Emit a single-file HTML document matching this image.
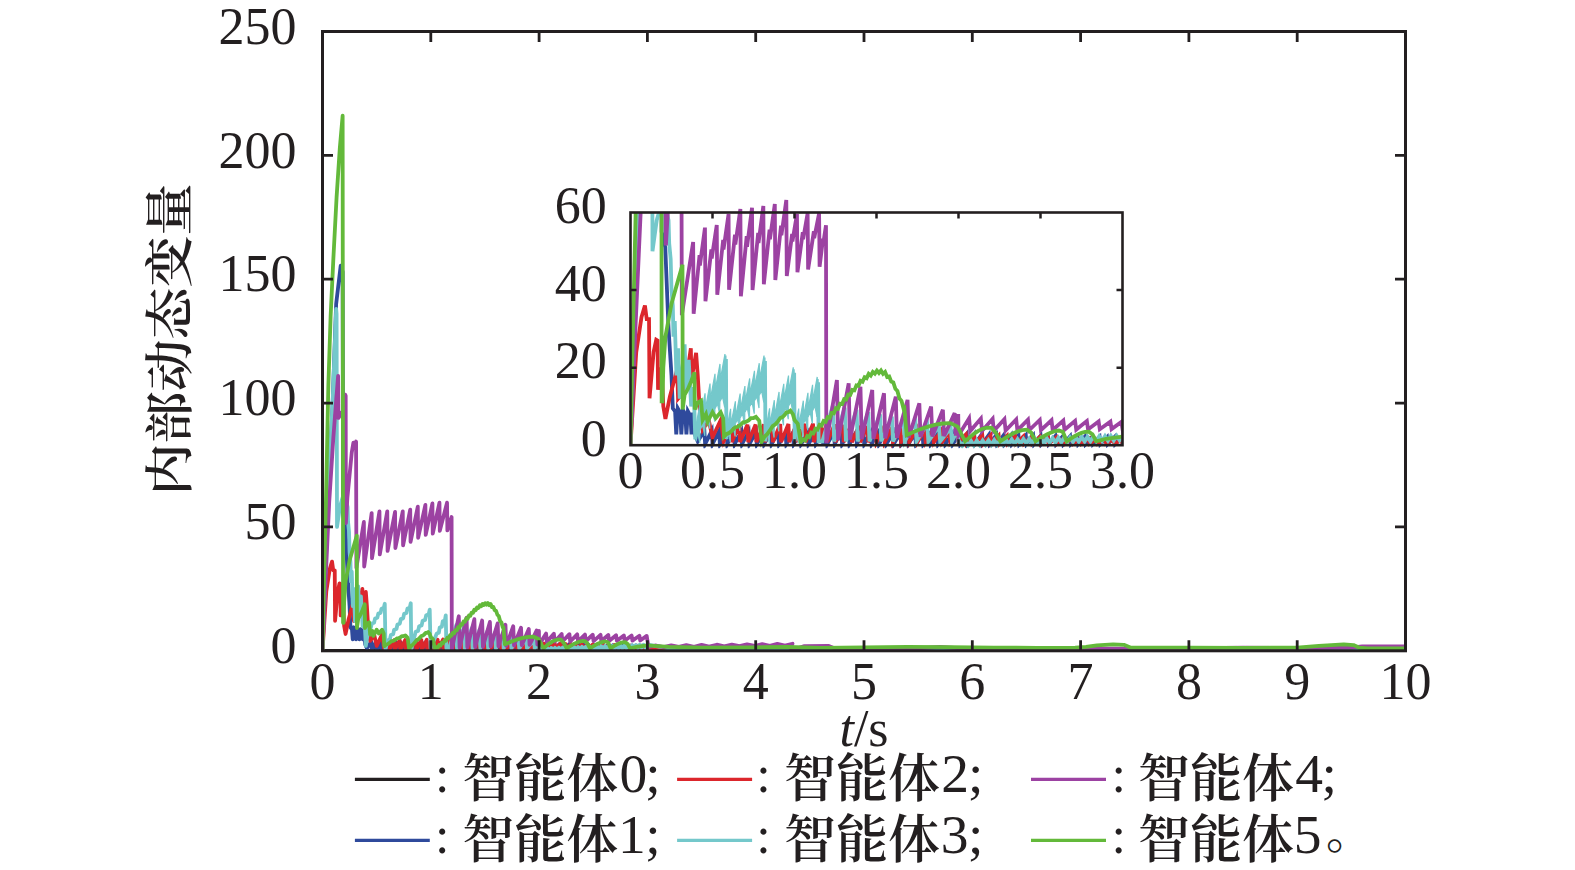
<!DOCTYPE html><html><head><meta charset="utf-8"><style>html,body{margin:0;padding:0;background:#fff;}svg{display:block}</style></head><body><svg width="1575" height="870" viewBox="0 0 1575 870">
<defs><clipPath id="cm"><rect x="321" y="30" width="1086" height="622"/></clipPath><clipPath id="ci"><rect x="630.5" y="212.5" width="492.0" height="235.7"/></clipPath><clipPath id="ci2"><rect x="686.3" y="195" width="436.2" height="17.5"/></clipPath></defs>
<rect width="1575" height="870" fill="#fff"/>
<g clip-path="url(#cm)" fill="none" stroke-width="3.8" stroke-linejoin="round" stroke-linecap="round">
<path d="M322.50,650.80 L1405.50,650.80" stroke="#231f20"/>
<path d="M322.50,650.80 L324.67,591.35 L327.92,507.12 L332.68,403.08 L336.15,303.99 L340.69,265.60 L342.64,271.79 L343.08,514.55 L345.46,524.46 L347.63,576.48 L349.57,606.21 L350.44,627.27 L351.96,629.25 L352.72,639.40 L353.69,627.27 L355.31,630.17 L356.07,639.40 L357.05,628.19 L358.67,631.09 L359.43,639.40 L360.41,629.11 L362.03,632.01 L362.79,639.40 L363.76,630.03 L365.28,644.61 L366.90,648.32 L371.29,641.49 L371.78,650.06 L371.78,650.06 L376.16,641.60 L376.65,650.06 L376.65,650.06 L381.04,641.71 L381.52,650.06 L381.52,650.06 L385.91,641.83 L386.40,650.06 L386.40,650.06 L390.78,641.94 L391.27,650.06 L391.27,650.06 L395.66,642.05 L396.14,650.06 L396.14,650.06 L400.53,642.17 L401.02,650.06 L401.02,650.06 L405.40,642.28 L405.89,650.06 L405.89,650.06 L410.28,642.39 L410.76,650.06 L410.76,650.06 L415.15,642.50 L415.64,650.06 L415.64,650.06 L420.02,642.62 L420.51,650.06 L420.51,650.06 L424.90,642.73 L425.39,650.06 L425.39,650.06 L429.77,642.84 L430.26,650.06 L430.26,650.06 L434.64,642.96 L435.13,650.06 L435.13,650.06 L439.52,643.07 L440.01,650.06 L440.01,650.06 L444.39,643.18 L444.88,650.06 L444.88,650.06 L449.27,643.29 L449.75,650.06 L449.75,650.06 L452.19,643.36 L452.46,650.06 L456.85,642.21 L457.33,650.06 L457.33,650.06 L461.72,642.31 L462.21,650.06 L462.21,650.06 L466.59,642.40 L467.08,650.06 L467.08,650.06 L471.47,642.49 L471.95,650.06 L471.95,650.06 L476.34,642.58 L476.83,650.06 L476.83,650.06 L481.21,642.68 L481.70,650.06 L481.70,650.06 L486.09,642.77 L486.57,650.06 L486.57,650.06 L490.96,642.86 L491.45,650.06 L491.45,650.06 L495.83,642.96 L496.32,650.06 L496.32,650.06 L500.71,643.05 L501.19,650.06 L501.19,650.06 L505.58,643.14 L506.07,650.06 L506.07,650.06 L510.45,643.24 L510.94,650.06 L510.94,650.06 L515.33,643.33 L515.82,650.06 L515.82,650.06 L520.20,643.42 L520.69,650.06 L520.69,650.06 L525.08,643.51 L525.56,650.06 L525.56,650.06 L529.95,643.61 L530.44,650.06 L530.44,650.06 L534.82,643.70 L535.31,650.06 L535.31,650.06 L539.70,643.79 L540.18,650.06 L540.18,650.06 L544.57,643.89 L545.06,650.06 L545.06,650.06 L549.44,643.98 L549.93,650.06 L549.93,650.06 L554.32,644.07 L554.80,650.06 L554.80,650.06 L559.19,644.16 L559.68,650.06 L559.68,650.06 L564.06,644.26 L564.55,650.06 L564.55,650.06 L568.94,644.35 L569.42,650.06 L569.42,650.06 L573.81,644.44 L574.30,650.06 L574.30,650.06 L578.68,644.54 L579.17,650.06 L579.17,650.06 L583.56,644.63 L584.04,650.06 L584.04,650.06 L588.43,644.72 L588.92,650.06 L588.92,650.06 L593.30,644.81 L593.79,650.06 L593.79,650.06 L598.18,644.91 L598.66,650.06 L598.66,650.06 L603.05,645.00 L603.54,650.06 L603.54,650.06 L607.92,645.09 L608.41,650.06 L608.41,650.06 L612.80,645.19 L613.29,650.06 L613.29,650.06 L617.67,645.28 L618.16,650.06 L618.16,650.06 L622.55,645.37 L623.03,650.06 L623.03,650.06 L627.42,645.46 L627.91,650.06 L627.91,650.06 L632.29,645.56 L632.78,650.06 L632.78,650.06 L637.17,645.65 L637.65,650.06 L637.65,650.06 L642.04,645.74 L642.53,650.06 L642.53,650.06 L646.91,645.84 L647.40,650.06 L669.06,650.06 L864.00,650.06 L1405.50,650.06" stroke="#2f4a9c"/>
<path d="M322.50,650.80 L326.29,591.35 L329.76,569.05 L332.03,561.62 L333.22,570.29 L334.74,570.29 L335.06,620.83 L337.77,591.35 L339.50,583.42 L340.37,583.92 L340.69,615.38 L343.08,601.26 L344.16,626.03 L345.57,633.96 L348.49,619.83 L353.37,602.25 L353.91,621.07 L358.24,616.12 L362.35,588.87 L362.79,608.69 L365.82,591.84 L366.90,606.21 L368.20,628.01 L370.15,640.89 L374.16,634.70 L376.65,645.85 L382.06,634.70 L384.01,648.32 L388.89,640.33 L389.43,649.56 L389.43,649.56 L394.30,640.25 L394.84,649.56 L394.84,649.56 L399.72,640.17 L400.26,649.56 L400.26,649.56 L405.13,640.09 L405.67,649.56 L405.67,649.56 L410.55,640.01 L411.09,649.56 L411.09,649.56 L415.96,639.93 L416.50,649.56 L416.50,649.56 L421.38,639.85 L421.92,649.56 L421.92,649.56 L426.79,639.78 L427.33,649.56 L427.33,649.56 L432.21,639.70 L432.75,649.56 L432.75,649.56 L437.62,639.62 L438.16,649.56 L438.16,649.56 L443.04,639.54 L443.58,649.56 L443.58,649.56 L448.45,639.46 L448.99,649.56 L448.99,649.56 L452.11,639.41 L452.46,649.56 L457.33,638.66 L457.88,649.31 L457.88,649.31 L462.75,638.94 L463.29,649.31 L463.29,649.31 L468.16,639.22 L468.71,649.31 L468.71,649.31 L473.58,639.50 L474.12,649.31 L474.12,649.31 L478.99,639.78 L479.54,649.31 L479.54,649.31 L484.41,640.06 L484.95,649.31 L484.95,649.31 L489.82,640.34 L490.37,649.31 L490.37,649.31 L495.24,640.62 L495.78,649.31 L495.78,649.31 L500.65,640.89 L501.20,649.31 L501.20,649.31 L506.07,641.17 L506.61,649.31 L506.61,649.31 L511.48,641.45 L512.03,649.31 L512.03,649.31 L516.90,641.73 L517.44,649.31 L517.44,649.31 L522.31,642.01 L522.86,649.31 L522.86,649.31 L527.73,642.29 L528.27,649.31 L528.27,649.31 L533.14,642.57 L533.69,649.31 L533.69,649.31 L538.56,642.85 L539.10,649.31 L543.97,643.48 L544.51,649.56 L544.51,649.56 L549.39,643.60 L549.93,649.56 L549.93,649.56 L554.80,643.73 L555.34,649.56 L555.34,649.56 L560.22,643.85 L560.76,649.56 L560.76,649.56 L565.63,643.98 L566.17,649.56 L566.17,649.56 L571.05,644.10 L571.59,649.56 L571.59,649.56 L576.46,644.22 L577.00,649.56 L577.00,649.56 L581.88,644.35 L582.42,649.56 L582.42,649.56 L587.29,644.47 L587.83,649.56 L587.83,649.56 L592.71,644.59 L593.25,649.56 L593.25,649.56 L598.12,644.72 L598.66,649.56 L598.66,649.56 L603.54,644.84 L604.08,649.56 L604.08,649.56 L608.95,644.97 L609.49,649.56 L609.49,649.56 L614.37,645.09 L614.91,649.56 L614.91,649.56 L619.78,645.21 L620.32,649.56 L620.32,649.56 L625.20,645.34 L625.74,649.56 L625.74,649.56 L630.61,645.46 L631.15,649.56 L631.15,649.56 L636.03,645.59 L636.57,649.56 L636.57,649.56 L641.44,645.71 L641.98,649.56 L641.98,649.56 L646.86,645.83 L647.40,649.56 L669.06,649.56 L755.70,649.31 L864.00,649.56 L972.30,649.81 L1080.60,649.56 L1188.90,649.56 L1253.88,647.83 L1275.54,649.56 L1405.50,649.56" stroke="#dc262c"/>
<path d="M322.50,650.80 L324.67,588.87 L327.92,502.17 L332.68,400.60 L336.15,308.95 L336.58,313.90 L337.01,526.94 L339.83,507.12 L344.16,492.26 L347.63,507.12 L348.06,521.99 L349.03,531.89 L349.57,551.71 L350.44,561.62 L350.87,581.44 L351.74,571.53 L352.82,606.21 L353.91,588.87 L354.99,621.07 L358.24,586.39 L359.32,616.12 L360.95,596.30 L362.57,626.03 L364.20,613.64 L365.82,645.85 L368.53,628.51 L370.80,627.71 L371.78,623.55 L374.05,622.76 L375.03,618.60 L377.30,617.80 L378.27,613.64 L380.55,612.85 L381.52,608.69 L383.80,607.89 L384.77,603.73 L385.53,649.31 L387.48,640.40 L389.81,639.60 L390.81,635.09 L393.13,634.29 L394.13,629.78 L396.46,628.99 L397.46,624.47 L399.79,623.68 L400.79,619.16 L403.11,618.37 L404.11,613.85 L406.44,613.06 L407.44,608.55 L409.77,607.75 L410.76,603.24 L411.31,649.31 L415.64,631.73 L418.10,630.93 L419.16,626.21 L421.62,625.42 L422.68,620.70 L425.14,619.91 L426.20,615.19 L428.66,614.40 L429.72,609.68 L430.58,648.32 L436.76,633.46 L438.85,632.67 L439.75,627.43 L441.85,626.64 L442.75,621.40 L444.85,620.61 L445.75,615.38 L446.40,648.32 L446.72,648.32 L449.21,648.32 L456.21,625.28 L456.99,648.32 L456.99,648.32 L463.99,626.74 L464.76,648.32 L464.76,648.32 L471.76,628.21 L472.54,648.32 L472.54,648.32 L479.54,629.67 L480.31,648.32 L480.31,648.32 L487.31,631.14 L488.09,648.32 L488.09,648.32 L495.09,632.60 L495.87,648.32 L495.87,648.32 L502.86,634.07 L503.64,648.32 L503.64,648.32 L510.64,635.53 L511.42,648.32 L511.42,648.32 L518.42,637.00 L519.19,648.32 L519.19,648.32 L526.19,638.46 L526.97,648.32 L526.97,648.32 L533.97,639.92 L534.75,648.32 L534.75,648.32 L538.66,640.81 L539.10,648.32 L539.64,648.32 L541.57,651.23 L543.49,648.19 L545.41,651.10 L547.34,648.06 L549.26,650.96 L551.19,647.92 L553.11,650.83 L555.04,647.79 L556.96,650.70 L558.88,647.66 L560.81,650.57 L562.73,647.53 L564.66,650.43 L566.58,647.39 L568.51,650.30 L570.43,647.26 L572.35,650.17 L574.28,647.13 L576.20,650.03 L578.13,647.00 L580.05,649.90 L581.98,646.86 L583.90,649.77 L585.82,646.73 L587.75,649.64 L589.67,646.60 L591.60,649.50 L593.52,646.46 L595.45,649.37 L597.37,646.33 L599.29,649.24 L601.22,646.20 L603.14,649.11 L605.07,646.07 L606.99,648.97 L608.91,645.93 L610.84,648.84 L612.76,645.80 L614.69,648.71 L616.61,645.67 L618.54,648.57 L620.46,645.54 L622.38,648.44 L624.31,645.40 L626.23,648.31 L628.16,645.27 L630.08,648.18 L632.01,645.14 L633.93,648.04 L635.85,645.01 L637.78,647.91 L639.70,644.87 L641.63,647.78 L643.55,644.74 L645.48,647.65 L647.40,644.61 L669.06,648.32 L712.38,649.31 L755.70,648.82 L864.00,649.56 L972.30,649.31 L1080.60,649.56 L1188.90,648.82 L1243.05,649.56 L1297.20,649.31 L1405.50,649.07" stroke="#74c8cb"/>
<path d="M322.50,650.80 L325.75,576.48 L329.21,502.17 L333.33,437.76 L338.10,375.83 L338.42,417.94 L344.70,408.03 L345.24,394.66 L345.68,395.65 L345.89,523.22 L347.41,497.21 L351.74,452.62 L353.37,442.72 L354.99,445.19 L356.07,441.48 L356.40,567.81 L363.87,521.99 L364.20,566.58 L371.67,513.07 L371.99,558.15 L379.47,511.33 L379.79,554.44 L387.26,511.33 L387.59,550.97 L395.06,511.83 L395.39,548.00 L402.75,511.33 L403.08,545.27 L410.22,509.60 L410.55,541.80 L417.80,506.63 L418.13,537.84 L425.38,504.89 L425.71,534.87 L432.42,503.41 L432.75,533.63 L439.46,502.66 L439.79,530.90 L447.04,502.66 L447.37,530.41 L451.59,517.03 L451.81,649.56 L458.81,616.24 L459.59,647.53 L459.59,647.53 L466.58,617.67 L467.36,647.24 L467.36,647.24 L474.36,619.10 L475.14,646.96 L475.14,646.96 L482.14,620.53 L482.91,646.67 L482.91,646.67 L489.91,621.95 L490.69,646.38 L490.69,646.38 L497.69,623.38 L498.47,646.10 L498.47,646.10 L505.46,624.81 L506.24,645.81 L506.24,645.81 L513.24,626.24 L514.02,645.53 L514.02,645.53 L521.02,627.66 L521.79,645.24 L521.79,645.24 L528.79,629.09 L529.57,644.96 L529.57,644.96 L536.57,630.52 L537.35,644.67 L537.35,644.67 L538.92,630.95 L539.10,644.61 L546.10,633.62 L546.88,641.78 L546.88,641.78 L553.87,633.80 L554.65,641.67 L554.65,641.67 L561.65,633.98 L562.43,641.56 L562.43,641.56 L569.43,634.15 L570.20,641.46 L570.20,641.46 L577.20,634.33 L577.98,641.35 L577.98,641.35 L584.98,634.51 L585.76,641.24 L585.76,641.24 L592.75,634.69 L593.53,641.14 L593.53,641.14 L600.53,634.86 L601.31,641.03 L601.31,641.03 L608.31,635.04 L609.08,640.92 L609.08,640.92 L616.08,635.22 L616.86,640.81 L616.86,640.81 L623.86,635.40 L624.64,640.71 L624.64,640.71 L631.63,635.58 L632.41,640.60 L632.41,640.60 L639.41,635.75 L640.19,640.49 L640.19,640.49 L646.68,635.92 L647.40,640.40 L648.48,646.84 L656.06,645.49 L663.64,647.13 L671.23,645.30 L678.81,646.94 L686.39,645.11 L693.97,646.75 L701.55,644.92 L709.13,646.56 L716.71,644.73 L724.29,646.36 L731.87,644.54 L739.45,646.17 L747.04,644.34 L754.62,645.98 L762.20,644.15 L769.78,645.79 L777.36,643.96 L784.94,645.60 L792.52,643.77 L790.36,648.08 L799.02,647.83 L804.44,646.09 L828.26,645.85 L833.68,648.08 L918.15,648.32 L939.81,646.84 L961.47,648.32 L1004.79,648.32 L1058.94,648.08 L1113.09,648.57 L1188.90,648.32 L1243.05,647.58 L1297.20,648.32 L1351.35,647.58 L1362.18,646.46 L1405.50,646.46" stroke="#9c42a2"/>
<path d="M322.50,650.80 L324.12,576.48 L325.97,499.69 L328.35,385.74 L330.62,316.38 L333.33,259.40 L336.58,197.47 L339.83,147.93 L342.64,115.72 L343.08,622.81 L343.62,622.81 L344.16,601.26 L345.57,581.44 L349.57,560.38 L353.91,545.52 L356.83,535.61 L356.94,628.01 L358.24,618.60 L360.40,614.88 L362.57,609.93 L364.74,604.23 L364.95,628.01 L366.90,623.55 L369.07,622.31 L370.15,634.70 L372.32,630.98 L373.40,635.94 L376.65,629.74 L378.82,633.46 L382.06,629.74 L383.69,633.46 L384.23,646.17 L386.04,644.69 L387.84,644.06 L389.65,642.80 L391.45,641.18 L393.26,640.83 L395.06,639.85 L396.87,638.38 L398.67,638.17 L400.48,637.32 L402.10,636.06 L403.73,636.06 L405.35,635.43 L406.07,636.13 L406.79,636.83 L407.52,637.53 L408.06,641.32 L408.60,645.11 L409.14,648.90 L410.94,646.24 L412.75,644.83 L414.56,642.80 L416.36,640.48 L418.16,639.43 L419.97,637.75 L421.41,635.99 L422.86,635.50 L424.30,634.38 L425.57,632.97 L426.83,632.83 L428.09,632.06 L428.63,632.69 L429.18,633.32 L429.72,633.96 L430.08,635.01 L430.44,636.06 L430.80,637.11 L431.52,637.82 L432.24,638.52 L432.97,639.22 L433.62,642.52 L434.27,645.82 L434.92,648.82 L435.13,648.82 L436.49,647.12 L437.84,647.77 L439.19,644.95 L440.55,645.60 L441.90,642.75 L443.25,643.24 L444.61,640.27 L445.96,640.77 L447.32,637.79 L448.67,638.29 L450.02,635.32 L451.38,635.81 L452.73,632.84 L454.08,633.34 L455.44,630.14 L456.79,630.42 L458.15,627.23 L459.50,627.51 L460.85,624.32 L462.21,624.59 L463.56,621.40 L464.91,621.66 L466.27,618.45 L467.62,618.71 L468.98,615.51 L470.33,615.77 L471.68,612.56 L473.04,612.82 L474.39,609.61 L475.74,610.21 L477.10,607.36 L478.45,607.97 L479.81,605.22 L481.16,606.33 L482.51,603.98 L483.87,605.10 L485.22,603.16 L486.57,604.68 L487.93,603.11 L489.28,605.24 L490.64,604.03 L491.99,607.18 L493.34,606.87 L494.70,610.17 L496.05,610.73 L497.40,614.76 L498.76,616.12 L500.11,620.95 L501.47,622.50 L502.82,627.55 L503.36,627.14 L504.88,644.36 L509.32,642.37 L514.19,640.52 L519.06,638.93 L523.94,637.71 L528.81,636.94 L533.68,636.68 L538.56,638.93 L543.43,648.32 L546.34,645.85 L549.25,643.56 L552.16,641.66 L555.07,640.27 L557.98,639.52 L560.90,639.73 L563.81,642.93 L566.72,648.32 L569.63,646.44 L572.54,644.68 L575.45,643.16 L578.36,641.98 L581.27,641.20 L584.18,640.90 L587.09,642.77 L590.00,648.32 L592.57,646.67 L595.15,645.11 L597.72,643.74 L600.29,642.63 L602.86,641.85 L605.43,641.44 L608.01,642.25 L610.58,648.32 L613.01,646.72 L615.45,645.23 L617.89,643.94 L620.33,642.96 L622.76,642.34 L625.20,642.13 L627.64,643.94 L630.07,648.32 L636.57,646.84 L647.40,645.35 L669.06,646.84 L701.55,647.58 L755.70,647.33 L788.19,646.84 L820.68,647.83 L864.00,647.33 L907.32,646.84 L950.64,647.08 L993.96,647.58 L1037.28,647.83 L1075.18,647.58 L1086.01,646.84 L1096.85,645.35 L1113.09,644.36 L1123.92,644.85 L1130.42,647.58 L1188.90,647.58 L1243.05,647.83 L1297.20,647.58 L1318.86,645.85 L1343.77,644.36 L1353.52,645.10 L1358.93,647.58 L1367.60,648.45 L1405.50,648.45" stroke="#63b93a"/>
</g>
<path d="M430.80,650.80V640.30M430.80,31.50V42.00M539.10,650.80V640.30M539.10,31.50V42.00M647.40,650.80V640.30M647.40,31.50V42.00M755.70,650.80V640.30M755.70,31.50V42.00M864.00,650.80V640.30M864.00,31.50V42.00M972.30,650.80V640.30M972.30,31.50V42.00M1080.60,650.80V640.30M1080.60,31.50V42.00M1188.90,650.80V640.30M1188.90,31.50V42.00M1297.20,650.80V640.30M1297.20,31.50V42.00M322.50,526.94H333.00M1405.50,526.94H1395.00M322.50,403.08H333.00M1405.50,403.08H1395.00M322.50,279.22H333.00M1405.50,279.22H1395.00M322.50,155.36H333.00M1405.50,155.36H1395.00" stroke="#231f20" stroke-width="2.8" fill="none"/>
<rect x="322.5" y="31.5" width="1083.0" height="619.3" fill="none" stroke="#231f20" stroke-width="3"/>
<rect x="630.5" y="212.5" width="492.0" height="232.7" fill="#fff"/>
<g clip-path="url(#ci)" fill="none" stroke-width="3.8" stroke-linejoin="miter" stroke-miterlimit="4">
<path d="M630.50,445.20" stroke="#231f20"/>
<path d="M630.50,445.20 L633.78,352.12 L638.70,220.26 L645.92,57.37 L651.16,-97.77 L658.05,-157.88 L661.00,-148.19 L661.66,231.89 L665.27,247.41 L668.55,328.85 L671.50,375.39 L672.81,408.36 L675.11,411.46 L676.26,434.34 L677.73,408.36 L680.19,412.90 L681.34,434.34 L682.82,409.80 L685.28,414.34 L686.42,434.34 L687.90,411.24 L690.36,415.79 L691.51,434.34 L692.98,412.68 L695.28,435.50 L697.74,441.32 L704.38,430.62 L705.12,444.04 L705.12,444.04 L711.76,430.80 L712.50,444.04 L712.50,444.04 L719.14,430.97 L719.88,444.04 L719.88,444.04 L726.52,431.15 L727.26,444.04 L727.26,444.04 L733.90,431.33 L734.64,444.04 L734.64,444.04 L741.28,431.51 L742.02,444.04 L742.02,444.04 L748.66,431.68 L749.40,444.04 L749.40,444.04 L756.04,431.86 L756.78,444.04 L756.78,444.04 L763.42,432.04 L764.16,444.04 L764.16,444.04 L770.80,432.21 L771.54,444.04 L771.54,444.04 L778.18,432.39 L778.92,444.04 L778.92,444.04 L785.56,432.57 L786.30,444.04 L786.30,444.04 L792.94,432.74 L793.68,444.04 L793.68,444.04 L800.32,432.92 L801.06,444.04 L801.06,444.04 L807.70,433.10 L808.44,444.04 L808.44,444.04 L815.08,433.27 L815.82,444.04 L815.82,444.04 L822.46,433.45 L823.20,444.04 L823.20,444.04 L826.89,433.56 L827.30,444.04 L833.94,431.76 L834.68,444.04 L834.68,444.04 L841.32,431.90 L842.06,444.04 L842.06,444.04 L848.70,432.05 L849.44,444.04 L849.44,444.04 L856.08,432.19 L856.82,444.04 L856.82,444.04 L863.46,432.34 L864.20,444.04 L864.20,444.04 L870.84,432.48 L871.58,444.04 L871.58,444.04 L878.22,432.63 L878.96,444.04 L878.96,444.04 L885.60,432.77 L886.34,444.04 L886.34,444.04 L892.98,432.92 L893.72,444.04 L893.72,444.04 L900.36,433.07 L901.10,444.04 L901.10,444.04 L907.74,433.21 L908.48,444.04 L908.48,444.04 L915.12,433.36 L915.86,444.04 L915.86,444.04 L922.50,433.50 L923.24,444.04 L923.24,444.04 L929.88,433.65 L930.62,444.04 L930.62,444.04 L937.26,433.79 L938.00,444.04 L938.00,444.04 L944.64,433.94 L945.38,444.04 L945.38,444.04 L952.02,434.08 L952.76,444.04 L952.76,444.04 L959.40,434.23 L960.14,444.04 L960.14,444.04 L966.78,434.37 L967.52,444.04 L967.52,444.04 L974.16,434.52 L974.90,444.04 L974.90,444.04 L981.54,434.67 L982.28,444.04 L982.28,444.04 L988.92,434.81 L989.66,444.04 L989.66,444.04 L996.30,434.96 L997.04,444.04 L997.04,444.04 L1003.68,435.10 L1004.42,444.04 L1004.42,444.04 L1011.06,435.25 L1011.80,444.04 L1011.80,444.04 L1018.44,435.39 L1019.18,444.04 L1019.18,444.04 L1025.82,435.54 L1026.56,444.04 L1026.56,444.04 L1033.20,435.68 L1033.94,444.04 L1033.94,444.04 L1040.58,435.83 L1041.32,444.04 L1041.32,444.04 L1047.96,435.97 L1048.70,444.04 L1048.70,444.04 L1055.34,436.12 L1056.08,444.04 L1056.08,444.04 L1062.72,436.27 L1063.46,444.04 L1063.46,444.04 L1070.10,436.41 L1070.84,444.04 L1070.84,444.04 L1077.48,436.56 L1078.22,444.04 L1078.22,444.04 L1084.86,436.70 L1085.60,444.04 L1085.60,444.04 L1092.24,436.85 L1092.98,444.04 L1092.98,444.04 L1099.62,436.99 L1100.36,444.04 L1100.36,444.04 L1107.00,437.14 L1107.74,444.04 L1107.74,444.04 L1114.38,437.28 L1115.12,444.04 L1115.12,444.04 L1121.76,437.43 L1122.50,444.04" stroke="#2f4a9c"/>
<path d="M630.50,445.20 L636.24,352.12 L641.49,317.22 L644.93,305.58 L646.74,319.15 L649.03,319.15 L649.52,398.27 L653.62,352.12 L656.25,339.71 L657.56,340.49 L658.05,389.74 L661.66,367.63 L663.30,406.42 L665.43,418.83 L669.86,396.72 L677.24,369.18 L678.06,398.66 L684.62,390.90 L690.85,348.24 L691.51,379.27 L696.10,352.90 L697.74,375.39 L699.71,409.52 L702.66,429.69 L708.73,419.99 L712.50,437.44 L720.70,419.99 L723.65,441.32 L731.03,424.92 L731.85,442.10 L731.85,442.10 L739.23,424.80 L740.05,442.10 L740.05,442.10 L747.43,424.68 L748.25,442.10 L748.25,442.10 L755.63,424.55 L756.45,442.10 L756.45,442.10 L763.83,424.43 L764.65,442.10 L764.65,442.10 L772.03,424.31 L772.85,442.10 L772.85,442.10 L780.23,424.19 L781.05,442.10 L781.05,442.10 L788.43,424.06 L789.25,442.10 L789.25,442.10 L796.63,423.94 L797.45,442.10 L797.45,442.10 L804.83,423.82 L805.65,442.10 L805.65,442.10 L813.03,423.69 L813.85,442.10 L813.85,442.10 L821.23,423.57 L822.05,442.10 L822.05,442.10 L826.78,423.49 L827.30,442.10 L834.68,424.31 L835.50,442.10 L835.50,442.10 L842.88,424.79 L843.70,442.10 L843.70,442.10 L851.08,425.28 L851.90,442.10 L851.90,442.10 L859.28,425.76 L860.10,442.10 L860.10,442.10 L867.48,426.24 L868.30,442.10 L868.30,442.10 L875.68,426.73 L876.50,442.10 L876.50,442.10 L883.88,427.21 L884.70,442.10 L884.70,442.10 L892.08,427.70 L892.90,442.10 L892.90,442.10 L900.28,428.18 L901.10,442.10 L901.10,442.10 L908.48,428.67 L909.30,442.10 L909.30,442.10 L916.68,429.15 L917.50,442.10 L917.50,442.10 L924.88,429.64 L925.70,442.10 L925.70,442.10 L933.08,430.12 L933.90,442.10 L933.90,442.10 L941.28,430.61 L942.10,442.10 L942.10,442.10 L949.48,431.09 L950.30,442.10 L950.30,442.10 L957.68,431.58 L958.50,442.10 L965.88,434.59 L966.70,443.65 L966.70,443.65 L974.08,434.86 L974.90,443.65 L974.90,443.65 L982.28,435.13 L983.10,443.65 L983.10,443.65 L990.48,435.40 L991.30,443.65 L991.30,443.65 L998.68,435.67 L999.50,443.65 L999.50,443.65 L1006.88,435.94 L1007.70,443.65 L1007.70,443.65 L1015.08,436.21 L1015.90,443.65 L1015.90,443.65 L1023.28,436.49 L1024.10,443.65 L1024.10,443.65 L1031.48,436.76 L1032.30,443.65 L1032.30,443.65 L1039.68,437.03 L1040.50,443.65 L1040.50,443.65 L1047.88,437.30 L1048.70,443.65 L1048.70,443.65 L1056.08,437.57 L1056.90,443.65 L1056.90,443.65 L1064.28,437.84 L1065.10,443.65 L1065.10,443.65 L1072.48,438.11 L1073.30,443.65 L1073.30,443.65 L1080.68,438.39 L1081.50,443.65 L1081.50,443.65 L1088.88,438.66 L1089.70,443.65 L1089.70,443.65 L1097.08,438.93 L1097.90,443.65 L1097.90,443.65 L1105.28,439.20 L1106.10,443.65 L1106.10,443.65 L1113.48,439.47 L1114.30,443.65 L1114.30,443.65 L1121.68,439.74 L1122.50,443.65" stroke="#dc262c"/>
<path d="M630.50,445.20 L633.78,348.24 L638.70,212.50 L645.92,53.49 L651.16,-90.01 L651.82,-82.25 L652.48,251.28 L656.74,220.26 L663.30,196.99 L668.55,220.26 L669.20,243.53 L670.68,259.04 L671.50,290.07 L672.81,305.58 L673.47,336.61 L674.78,321.09 L676.42,375.39 L678.06,348.24 L679.70,398.66 L684.62,344.36 L686.26,390.90 L688.72,359.88 L691.18,406.42 L693.64,387.02 L695.28,439.38 L696.10,429.69 L725.95,378.88 L725.95,359.10 L726.44,438.99 L726.77,430.66 L764.98,377.52 L764.98,361.04 L765.47,441.32 L765.80,431.63 L794.17,388.58 L794.17,372.68 L794.66,441.32 L794.99,431.63 L818.12,395.36 L818.12,382.37 L818.61,441.32 L822.38,441.32 L832.98,405.24 L834.16,441.32 L834.16,441.32 L844.75,407.53 L845.93,441.32 L845.93,441.32 L856.53,409.83 L857.71,441.32 L857.71,441.32 L868.30,412.12 L869.48,441.32 L869.48,441.32 L880.08,414.41 L881.26,441.32 L881.26,441.32 L891.85,416.71 L893.03,441.32 L893.03,441.32 L903.63,419.00 L904.81,441.32 L904.81,441.32 L915.40,421.29 L916.58,441.32 L916.58,441.32 L927.18,423.59 L928.36,441.32 L928.36,441.32 L938.95,425.88 L940.13,441.32 L940.13,441.32 L950.73,428.17 L951.91,441.32 L951.91,441.32 L957.84,429.56 L958.50,441.32 L959.32,441.32 L962.23,445.87 L965.15,441.11 L968.06,445.66 L970.98,440.91 L973.89,445.46 L976.80,440.70 L979.72,445.25 L982.63,440.49 L985.55,445.04 L988.46,440.28 L991.37,444.83 L994.29,440.08 L997.20,444.63 L1000.12,439.87 L1003.03,444.42 L1005.94,439.66 L1008.86,444.21 L1011.77,439.45 L1014.68,444.00 L1017.60,439.24 L1020.51,443.79 L1023.43,439.04 L1026.34,443.59 L1029.25,438.83 L1032.17,443.38 L1035.08,438.62 L1038.00,443.17 L1040.91,438.41 L1043.82,442.96 L1046.74,438.21 L1049.65,442.76 L1052.57,438.00 L1055.48,442.55 L1058.39,437.79 L1061.31,442.34 L1064.22,437.58 L1067.14,442.13 L1070.05,437.37 L1072.96,441.92 L1075.88,437.17 L1078.79,441.72 L1081.70,436.96 L1084.62,441.51 L1087.53,436.75 L1090.45,441.30 L1093.36,436.54 L1096.27,441.09 L1099.19,436.34 L1102.10,440.89 L1105.02,436.13 L1107.93,440.68 L1110.84,435.92 L1113.76,440.47 L1116.67,435.71 L1119.59,440.26 L1122.50,435.50" stroke="#74c8cb"/>
<path d="M696.10,441.32 L696.10,425.03 L700.08,403.21 L700.41,415.78 L701.07,415.21 L705.05,393.39 L705.38,405.95 L706.05,405.38 L710.03,383.56 L710.36,396.13 L711.02,395.56 L715.00,373.74 L715.33,386.30 L716.00,385.73 L719.98,363.91 L720.31,376.48 L720.97,375.91 L724.95,354.09 L725.28,366.65 L725.95,355.61 L725.95,398.66 L724.80,394.71 L724.70,407.42 L722.47,396.66 L719.83,401.82 L719.73,414.53 L717.49,403.77 L714.85,408.93 L714.75,421.64 L712.52,410.88 L709.88,416.04 L709.78,428.75 L707.54,417.99 L704.91,423.15 L704.81,435.86 L702.57,425.10 L699.93,430.26 L699.83,442.97 L697.59,432.21Z" fill="#74c8cb" stroke="#74c8cb" stroke-width="1.2"/>
<path d="M726.77,439.38 L726.77,428.91 L730.59,408.86 L730.92,421.43 L731.54,421.30 L735.37,401.25 L735.69,413.81 L736.32,413.69 L740.14,393.64 L740.47,406.20 L741.10,406.08 L744.92,386.03 L745.25,398.59 L745.87,398.47 L749.70,378.42 L750.02,390.98 L750.65,390.85 L754.47,370.80 L754.80,383.37 L755.43,383.24 L759.25,363.19 L759.58,375.76 L760.20,375.63 L764.02,355.58 L764.35,368.15 L764.98,357.55 L764.98,394.01 L763.88,389.73 L763.79,402.41 L761.64,391.00 L759.10,395.40 L759.01,408.08 L756.86,396.67 L754.33,401.07 L754.23,413.75 L752.08,402.34 L749.55,406.74 L749.46,419.42 L747.31,408.01 L744.78,412.41 L744.68,425.09 L742.53,413.68 L740.00,418.09 L739.90,430.77 L737.75,419.36 L735.22,423.76 L735.13,436.44 L732.98,425.03 L730.45,429.43 L730.35,442.11 L728.20,430.70Z" fill="#74c8cb" stroke="#74c8cb" stroke-width="1.2"/>
<path d="M765.80,441.32 L765.80,428.91 L769.58,408.38 L769.91,420.95 L770.53,420.70 L774.31,400.17 L774.64,412.74 L775.26,412.49 L779.04,391.96 L779.37,404.53 L779.99,404.28 L783.77,383.75 L784.10,396.32 L784.71,396.07 L788.50,375.55 L788.83,388.11 L789.44,387.87 L793.23,367.34 L793.55,379.90 L794.17,369.18 L794.17,404.48 L793.08,400.31 L792.99,412.99 L790.86,401.79 L788.36,406.45 L788.26,419.13 L786.13,407.94 L783.63,412.59 L783.53,425.28 L781.40,414.08 L778.90,418.73 L778.80,431.42 L776.68,420.22 L774.17,424.87 L774.08,437.56 L771.95,426.36 L769.44,431.01 L769.35,443.70 L767.22,432.50Z" fill="#74c8cb" stroke="#74c8cb" stroke-width="1.2"/>
<path d="M794.99,441.32 L794.99,428.91 L798.69,408.62 L799.02,421.19 L799.62,421.00 L803.32,400.71 L803.64,413.27 L804.24,413.09 L807.94,392.80 L808.27,405.36 L808.87,405.18 L812.57,384.88 L812.89,397.45 L813.49,397.26 L817.19,376.97 L817.52,389.54 L818.12,378.88 L818.12,408.36 L817.05,404.29 L816.96,416.99 L814.88,405.99 L812.43,410.88 L812.34,423.58 L810.25,412.58 L807.80,417.47 L807.71,430.17 L805.63,419.18 L803.18,424.07 L803.09,436.76 L801.00,425.77 L798.55,430.66 L798.46,443.36 L796.38,432.36Z" fill="#74c8cb" stroke="#74c8cb" stroke-width="1.2"/>
<path d="M630.50,445.20 L635.42,328.85 L640.67,212.50 L646.90,111.66 L654.12,14.71 L654.61,80.64 L664.12,65.12 L664.94,44.18 L665.60,45.73 L665.92,245.47 L668.22,204.74 L674.78,134.93 L677.24,119.42 L679.70,123.30 L681.34,117.48 L681.83,315.28 L693.15,241.98 L693.64,313.72 L699.54,255.18 L699.90,265.51 L704.96,227.63 L705.45,301.31 L711.35,249.36 L711.71,258.53 L716.76,224.91 L717.26,294.72 L723.16,239.87 L723.51,249.55 L728.57,214.05 L729.06,289.68 L734.97,234.82 L735.32,244.50 L740.38,209.01 L740.87,296.27 L746.69,236.14 L747.04,246.75 L752.02,207.85 L752.52,290.07 L758.17,232.84 L758.51,242.94 L763.34,205.91 L763.83,284.25 L769.57,229.66 L769.92,239.29 L774.82,203.97 L775.31,279.98 L781.05,225.66 L781.40,235.24 L786.30,200.09 L786.79,276.10 L792.12,233.91 L792.44,241.35 L796.96,214.05 L797.45,272.23 L802.78,232.14 L803.10,239.21 L807.62,213.28 L808.11,269.51 L813.85,231.27 L814.20,238.02 L819.10,213.28 L819.59,266.80 L823.04,238.58 L823.24,243.56 L825.99,225.30 L826.32,443.26 L836.91,380.10 L838.09,440.07 L838.09,440.07 L848.69,383.40 L849.87,439.63 L849.87,439.63 L860.46,386.70 L861.64,439.18 L861.64,439.18 L872.24,390.00 L873.42,438.73 L873.42,438.73 L884.01,393.30 L885.19,438.29 L885.19,438.29 L895.79,396.60 L896.97,437.84 L896.97,437.84 L907.56,399.90 L908.74,437.39 L908.74,437.39 L919.34,403.20 L920.52,436.95 L920.52,436.95 L931.12,406.50 L932.29,436.50 L932.29,436.50 L942.89,409.80 L944.07,436.05 L944.07,436.05 L954.67,413.10 L955.84,435.61 L955.84,435.61 L958.23,414.10 L958.50,435.50 L958.50,435.50 L969.10,418.30 L970.28,431.07 L970.28,431.07 L980.87,418.58 L982.05,430.90 L982.05,430.90 L992.65,418.86 L993.83,430.74 L993.83,430.74 L1004.42,419.14 L1005.60,430.57 L1005.60,430.57 L1016.20,419.42 L1017.38,430.40 L1017.38,430.40 L1027.97,419.69 L1029.15,430.24 L1029.15,430.24 L1039.75,419.97 L1040.93,430.07 L1040.93,430.07 L1051.52,420.25 L1052.70,429.90 L1052.70,429.90 L1063.30,420.53 L1064.48,429.73 L1064.48,429.73 L1075.07,420.81 L1076.25,429.57 L1076.25,429.57 L1086.85,421.09 L1088.03,429.40 L1088.03,429.40 L1098.62,421.37 L1099.80,429.23 L1099.80,429.23 L1110.40,421.64 L1111.58,429.07 L1111.58,429.07 L1121.41,421.90 L1122.50,428.91 L1124.14,438.99" stroke="#9c42a2"/>
<path d="M630.50,445.20 L632.96,328.85 L635.75,208.62 L639.36,30.22 L642.80,-78.38 L646.90,-167.58 L651.82,-264.54 L656.74,-342.10 L661.00,-392.52 L661.66,401.37 L662.48,401.37 L663.30,367.63 L665.43,336.61 L671.50,303.64 L678.06,280.37 L682.49,264.86 L682.65,409.52 L684.62,394.78 L687.90,388.96 L691.18,381.21 L694.46,372.29 L694.79,409.52 L697.74,402.54 L701.02,400.60 L702.66,419.99 L705.94,414.17 L707.58,421.93 L712.50,412.23 L715.78,418.05 L720.70,412.23 L723.16,418.05 L723.98,436.67 L726.71,433.95 L729.45,432.79 L732.18,430.46 L734.91,427.49 L737.65,426.84 L740.38,425.03 L743.11,422.32 L745.85,421.93 L748.58,420.38 L751.04,418.05 L753.50,418.05 L755.96,416.89 L757.05,418.18 L758.15,419.47 L759.24,420.77 L760.06,427.75 L760.88,434.73 L761.70,441.71 L764.43,436.80 L767.17,434.21 L769.90,430.46 L772.63,426.20 L775.37,424.26 L778.10,421.15 L780.29,417.92 L782.47,417.02 L784.66,414.95 L786.57,412.36 L788.49,412.10 L790.40,410.68 L791.22,411.85 L792.04,413.01 L792.86,414.17 L793.41,416.11 L793.95,418.05 L794.50,419.99 L795.59,421.28 L796.69,422.58 L797.78,423.87 L798.76,429.95 L799.75,436.02 L800.73,442.10 L801.06,442.10 L803.11,439.43 L805.16,440.45 L807.21,436.04 L809.26,437.06 L811.31,432.60 L813.36,433.37 L815.41,428.72 L817.46,429.49 L819.51,424.84 L821.56,425.61 L823.61,420.96 L825.66,421.74 L827.71,417.08 L829.76,417.86 L831.81,412.86 L833.86,413.30 L835.91,408.30 L837.96,408.73 L840.01,403.74 L842.06,404.17 L844.11,399.17 L846.16,399.58 L848.21,394.56 L850.26,394.96 L852.31,389.94 L854.36,390.35 L856.41,385.33 L858.46,385.74 L860.51,380.72 L862.56,381.66 L864.61,377.19 L866.66,378.15 L868.71,373.84 L870.76,375.58 L872.81,371.90 L874.86,373.64 L876.91,370.61 L878.96,373.00 L881.01,370.53 L883.06,373.87 L885.11,371.97 L887.16,376.92 L889.21,376.43 L891.26,381.59 L893.31,382.46 L895.36,388.77 L897.41,390.90 L899.46,398.47 L901.51,400.89 L903.56,408.80 L904.38,408.16 L906.68,435.12 L913.40,432.00 L920.78,429.10 L928.16,426.61 L935.54,424.70 L942.92,423.50 L950.30,423.09 L957.68,426.61 L965.06,441.32 L969.47,437.44 L973.88,433.87 L978.28,430.88 L982.69,428.72 L987.10,427.55 L991.50,427.87 L995.91,432.88 L1000.32,441.32 L1004.73,438.38 L1009.13,435.62 L1013.54,433.24 L1017.95,431.39 L1022.36,430.18 L1026.77,429.69 L1031.17,432.62 L1035.58,441.32 L1039.48,438.73 L1043.37,436.29 L1047.27,434.14 L1051.16,432.41 L1055.06,431.19 L1058.95,430.55 L1062.85,431.82 L1066.74,441.32 L1070.43,438.81 L1074.12,436.47 L1077.81,434.47 L1081.50,432.92 L1085.19,431.96 L1088.88,431.63 L1092.57,434.47 L1096.26,441.32 L1106.10,438.99 L1122.50,436.67" stroke="#63b93a"/>
</g>
<path clip-path="url(#ci2)" fill="none" stroke-width="3.8" d="M630.50,445.20 L635.42,328.85 L640.67,212.50 L646.90,111.66 L654.12,14.71 L654.61,80.64 L664.12,65.12 L664.94,44.18 L665.60,45.73 L665.92,245.47 L668.22,204.74 L674.78,134.93 L677.24,119.42 L679.70,123.30 L681.34,117.48 L681.83,315.28 L693.15,241.98 L693.64,313.72 L699.54,255.18 L699.90,265.51 L704.96,227.63 L705.45,301.31 L711.35,249.36 L711.71,258.53 L716.76,224.91 L717.26,294.72 L723.16,239.87 L723.51,249.55 L728.57,214.05 L729.06,289.68 L734.97,234.82 L735.32,244.50 L740.38,209.01 L740.87,296.27 L746.69,236.14 L747.04,246.75 L752.02,207.85 L752.52,290.07 L758.17,232.84 L758.51,242.94 L763.34,205.91 L763.83,284.25 L769.57,229.66 L769.92,239.29 L774.82,203.97 L775.31,279.98 L781.05,225.66 L781.40,235.24 L786.30,200.09 L786.79,276.10 L792.12,233.91 L792.44,241.35 L796.96,214.05 L797.45,272.23 L802.78,232.14 L803.10,239.21 L807.62,213.28 L808.11,269.51 L813.85,231.27 L814.20,238.02 L819.10,213.28 L819.59,266.80 L823.04,238.58 L823.24,243.56 L825.99,225.30 L826.32,443.26 L836.91,380.10 L838.09,440.07 L838.09,440.07 L848.69,383.40 L849.87,439.63 L849.87,439.63 L860.46,386.70 L861.64,439.18 L861.64,439.18 L872.24,390.00 L873.42,438.73 L873.42,438.73 L884.01,393.30 L885.19,438.29 L885.19,438.29 L895.79,396.60 L896.97,437.84 L896.97,437.84 L907.56,399.90 L908.74,437.39 L908.74,437.39 L919.34,403.20 L920.52,436.95 L920.52,436.95 L931.12,406.50 L932.29,436.50 L932.29,436.50 L942.89,409.80 L944.07,436.05 L944.07,436.05 L954.67,413.10 L955.84,435.61 L955.84,435.61 L958.23,414.10 L958.50,435.50 L958.50,435.50 L969.10,418.30 L970.28,431.07 L970.28,431.07 L980.87,418.58 L982.05,430.90 L982.05,430.90 L992.65,418.86 L993.83,430.74 L993.83,430.74 L1004.42,419.14 L1005.60,430.57 L1005.60,430.57 L1016.20,419.42 L1017.38,430.40 L1017.38,430.40 L1027.97,419.69 L1029.15,430.24 L1029.15,430.24 L1039.75,419.97 L1040.93,430.07 L1040.93,430.07 L1051.52,420.25 L1052.70,429.90 L1052.70,429.90 L1063.30,420.53 L1064.48,429.73 L1064.48,429.73 L1075.07,420.81 L1076.25,429.57 L1076.25,429.57 L1086.85,421.09 L1088.03,429.40 L1088.03,429.40 L1098.62,421.37 L1099.80,429.23 L1099.80,429.23 L1110.40,421.64 L1111.58,429.07 L1111.58,429.07 L1121.41,421.90 L1122.50,428.91 L1124.14,438.99" stroke="#9c42a2"/>
<path d="M712.50,445.20V439.20M712.50,212.50V218.50M794.50,445.20V439.20M794.50,212.50V218.50M876.50,445.20V439.20M876.50,212.50V218.50M958.50,445.20V439.20M958.50,212.50V218.50M1040.50,445.20V439.20M1040.50,212.50V218.50M630.50,367.63H636.50M1122.50,367.63H1116.50M630.50,290.07H636.50M1122.50,290.07H1116.50" stroke="#231f20" stroke-width="2.5" fill="none"/>
<rect x="630.5" y="212.5" width="492.0" height="232.7" fill="none" stroke="#231f20" stroke-width="2.6"/>
<g font-family="'Liberation Serif', 'Times New Roman', serif" font-size="52" fill="#231f20">
<text x="296.5" y="663.0" text-anchor="end">0</text>
<text x="296.5" y="539.1" text-anchor="end">50</text>
<text x="296.5" y="415.3" text-anchor="end">100</text>
<text x="296.5" y="291.4" text-anchor="end">150</text>
<text x="296.5" y="167.6" text-anchor="end">200</text>
<text x="296.5" y="43.7" text-anchor="end">250</text>
<text x="322.5" y="698.5" text-anchor="middle">0</text>
<text x="430.8" y="698.5" text-anchor="middle">1</text>
<text x="539.1" y="698.5" text-anchor="middle">2</text>
<text x="647.4" y="698.5" text-anchor="middle">3</text>
<text x="755.7" y="698.5" text-anchor="middle">4</text>
<text x="864.0" y="698.5" text-anchor="middle">5</text>
<text x="972.3" y="698.5" text-anchor="middle">6</text>
<text x="1080.6" y="698.5" text-anchor="middle">7</text>
<text x="1188.9" y="698.5" text-anchor="middle">8</text>
<text x="1297.2" y="698.5" text-anchor="middle">9</text>
<text x="1405.5" y="698.5" text-anchor="middle">10</text>
<text x="606.8" y="455.7" text-anchor="end">0</text>
<text x="606.8" y="378.1" text-anchor="end">20</text>
<text x="606.8" y="300.6" text-anchor="end">40</text>
<text x="606.8" y="223.0" text-anchor="end">60</text>
<text x="630.5" y="488" text-anchor="middle">0</text>
<text x="712.5" y="488" text-anchor="middle">0.5</text>
<text x="794.5" y="488" text-anchor="middle">1.0</text>
<text x="876.5" y="488" text-anchor="middle">1.5</text>
<text x="958.5" y="488" text-anchor="middle">2.0</text>
<text x="1040.5" y="488" text-anchor="middle">2.5</text>
<text x="1122.5" y="488" text-anchor="middle">3.0</text>
<text x="864" y="745.5" text-anchor="middle"><tspan font-style="italic">t</tspan>/s</text>
</g>
<text transform="translate(187,339.5) rotate(-90) scale(1,0.93)" text-anchor="middle" font-family="'Noto Serif CJK SC', serif" font-weight="600" font-size="52" fill="#231f20">内部动态变量</text>
<path d="M354.9,779.4H429.8" stroke="#231f20" stroke-width="3.2"/>
<text x="435.1" y="792.4" font-family="'Liberation Serif', 'Times New Roman', serif" font-size="52" fill="#231f20">:</text>
<text x="462.2" y="796.9" font-family="'Noto Serif CJK SC', serif" font-weight="600" font-size="52" fill="#231f20">智能体</text>
<text x="619.4" y="792.4" font-family="'Liberation Serif', 'Times New Roman', serif" font-size="55.5" fill="#231f20">0</text>
<text x="645.3" y="792.4" font-family="'Liberation Serif', 'Times New Roman', serif" font-size="55.5" fill="#231f20">;</text>
<path d="M677.1,779.4H752.1" stroke="#dc262c" stroke-width="3.2"/>
<text x="756.3" y="792.4" font-family="'Liberation Serif', 'Times New Roman', serif" font-size="52" fill="#231f20">:</text>
<text x="784.1" y="796.9" font-family="'Noto Serif CJK SC', serif" font-weight="600" font-size="52" fill="#231f20">智能体</text>
<text x="941.3" y="792.4" font-family="'Liberation Serif', 'Times New Roman', serif" font-size="55.5" fill="#231f20">2</text>
<text x="967.9" y="792.4" font-family="'Liberation Serif', 'Times New Roman', serif" font-size="55.5" fill="#231f20">;</text>
<path d="M1031,779.4H1106" stroke="#9c42a2" stroke-width="3.2"/>
<text x="1111.6" y="792.4" font-family="'Liberation Serif', 'Times New Roman', serif" font-size="52" fill="#231f20">:</text>
<text x="1137.9" y="796.9" font-family="'Noto Serif CJK SC', serif" font-weight="600" font-size="52" fill="#231f20">智能体</text>
<text x="1295.2" y="792.4" font-family="'Liberation Serif', 'Times New Roman', serif" font-size="55.5" fill="#231f20">4</text>
<text x="1321.5" y="792.4" font-family="'Liberation Serif', 'Times New Roman', serif" font-size="55.5" fill="#231f20">;</text>
<path d="M354.9,840.4H429.8" stroke="#2f4a9c" stroke-width="3.2"/>
<text x="435.1" y="853.4" font-family="'Liberation Serif', 'Times New Roman', serif" font-size="52" fill="#231f20">:</text>
<text x="462.2" y="857.9" font-family="'Noto Serif CJK SC', serif" font-weight="600" font-size="52" fill="#231f20">智能体</text>
<text x="617.9" y="853.4" font-family="'Liberation Serif', 'Times New Roman', serif" font-size="55.5" fill="#231f20">1</text>
<text x="645.3" y="853.4" font-family="'Liberation Serif', 'Times New Roman', serif" font-size="55.5" fill="#231f20">;</text>
<path d="M677.1,840.4H752.1" stroke="#74c8cb" stroke-width="3.2"/>
<text x="756.3" y="853.4" font-family="'Liberation Serif', 'Times New Roman', serif" font-size="52" fill="#231f20">:</text>
<text x="784.1" y="857.9" font-family="'Noto Serif CJK SC', serif" font-weight="600" font-size="52" fill="#231f20">智能体</text>
<text x="940.8" y="853.4" font-family="'Liberation Serif', 'Times New Roman', serif" font-size="55.5" fill="#231f20">3</text>
<text x="967.9" y="853.4" font-family="'Liberation Serif', 'Times New Roman', serif" font-size="55.5" fill="#231f20">;</text>
<path d="M1031,840.4H1106" stroke="#63b93a" stroke-width="3.2"/>
<text x="1111.6" y="853.4" font-family="'Liberation Serif', 'Times New Roman', serif" font-size="52" fill="#231f20">:</text>
<text x="1137.9" y="857.9" font-family="'Noto Serif CJK SC', serif" font-weight="600" font-size="52" fill="#231f20">智能体</text>
<text x="1293.7" y="853.4" font-family="'Liberation Serif', 'Times New Roman', serif" font-size="55.5" fill="#231f20">5</text>
<text x="1326.0" y="847.9" font-family="'Noto Serif CJK SC', serif" font-size="47" font-weight="700" fill="#231f20">。</text>
</svg></body></html>
